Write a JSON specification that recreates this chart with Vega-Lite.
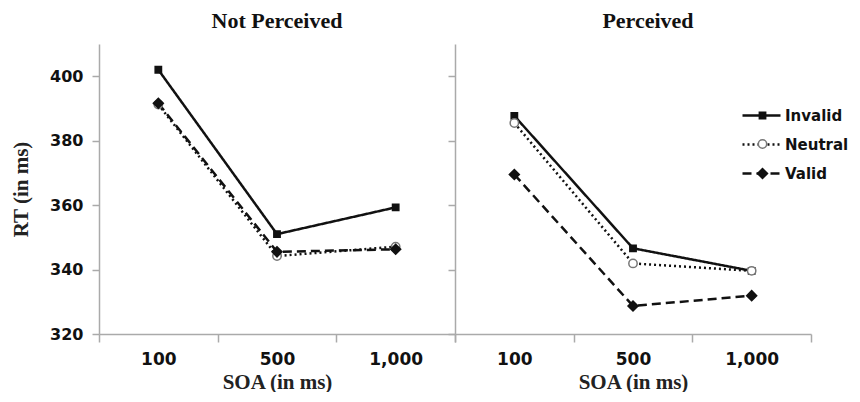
{
  "$schema": "https://vega.github.io/schema/vega-lite/v6.json",
  "background": "white",
  "padding": {"left": 10, "top": 10, "right": 0, "bottom": 0},
  "data": {"values": [
    {"panel": "Not Perceived", "soa": "100", "cue": "Invalid", "marker": "Invalid", "rt": 402},
    {"panel": "Not Perceived", "soa": "500", "cue": "Invalid", "marker": "Invalid", "rt": 351},
    {"panel": "Not Perceived", "soa": "1,000", "cue": "Invalid", "marker": "Invalid", "rt": 359.3},
    {"panel": "Not Perceived", "soa": "100", "cue": "Neutral", "marker": "Neutral", "rt": 391.2},
    {"panel": "Not Perceived", "soa": "500", "cue": "Neutral", "marker": "Neutral", "rt": 344.2},
    {"panel": "Not Perceived", "soa": "1,000", "cue": "Neutral", "marker": "Neutral", "rt": 347.1},
    {"panel": "Not Perceived", "soa": "100", "cue": "Valid", "marker": "Valid", "rt": 391.6},
    {"panel": "Not Perceived", "soa": "500", "cue": "Valid", "marker": "Valid", "rt": 345.5},
    {"panel": "Not Perceived", "soa": "1,000", "cue": "Valid", "marker": "Valid", "rt": 346.3},
    {"panel": "Perceived", "soa": "100", "cue": "Invalid", "marker": "Invalid", "rt": 387.7},
    {"panel": "Perceived", "soa": "500", "cue": "Invalid", "marker": "Invalid", "rt": 346.6},
    {"panel": "Perceived", "soa": "1,000", "cue": "Invalid", "marker": "Invalid", "rt": 339.6},
    {"panel": "Perceived", "soa": "100", "cue": "Neutral", "marker": "Neutral", "rt": 385.5},
    {"panel": "Perceived", "soa": "500", "cue": "Neutral", "marker": "Neutral", "rt": 341.9},
    {"panel": "Perceived", "soa": "1,000", "cue": "Neutral", "marker": "Neutral", "rt": 339.6},
    {"panel": "Perceived", "soa": "100", "cue": "Valid", "marker": "Valid", "rt": 369.5},
    {"panel": "Perceived", "soa": "500", "cue": "Valid", "marker": "Valid", "rt": 328.7},
    {"panel": "Perceived", "soa": "1,000", "cue": "Valid", "marker": "Valid", "rt": 331.9}
  ]},
  "config": {
    "view": {"stroke": null},
    "axis": {
      "domainColor": "#aaaaaa", "domainWidth": 1.5,
      "tickColor": "#aaaaaa", "tickWidth": 1.5, "tickSize": 7,
      "grid": false,
      "labelFont": "DejaVu Sans", "labelFontWeight": "bold", "labelColor": "#111111",
      "titleFont": "Liberation Serif", "titleFontWeight": "bold", "titleColor": "#222222", "titleFontSize": 21
    },
    "title": {"font": "Liberation Serif", "fontWeight": "bold", "fontSize": 22, "color": "#111111", "frame": "group"},
    "legend": {"labelFont": "DejaVu Sans", "labelFontWeight": "bold", "labelFontSize": 15, "labelColor": "#111111"}
  },
  "hconcat": [
    {
      "title": {"text": "Not Perceived", "offset": 11},
      "width": 356, "height": 290,
      "transform": [{"filter": "datum.panel === 'Not Perceived'"}],
      "encoding": {
        "x": {"field": "soa", "type": "ordinal", "sort": ["100", "500", "1,000"],
              "scale": {"paddingInner": 0, "paddingOuter": 0},
              "axis": {"title": "SOA (in ms)", "labelAngle": 0, "labelFontSize": 17, "tickBand": "extent", "tickSize": 8, "labelPadding": 9, "titlePadding": 4}},
        "y": {"field": "rt", "type": "quantitative", "scale": {"domain": [320, 410], "nice": false, "zero": false},
              "axis": {"title": "RT (in ms)", "values": [320, 340, 360, 380, 400], "labelFontSize": 16, "labelPadding": 9, "titlePadding": 18}}
      },
      "layer": [
        {
          "mark": {"type": "line", "color": "#111111", "strokeWidth": 2.5},
          "encoding": {
            "detail": {"field": "cue"},
            "strokeDash": {"field": "cue", "type": "nominal", "scale": {"range": [[1, 0], [2, 3], [9, 5]]}, "legend": null}
          }
        },
        {
          "mark": {"type": "point", "opacity": 1, "strokeWidth": 1.5},
          "encoding": {
            "shape": {"field": "marker", "type": "nominal", "scale": {"range": ["square", "circle", "diamond"]}, "legend": null},
            "fill": {"field": "marker", "type": "nominal", "scale": {"range": ["#111111", "#ffffff", "#111111"]}, "legend": null},
            "stroke": {"field": "marker", "type": "nominal", "scale": {"range": ["#111111", "#777777", "#111111"]}, "legend": null},
            "size": {"field": "marker", "type": "nominal", "scale": {"range": [40, 100, 45]}, "legend": null}
          }
        }
      ]
    },
    {
      "title": {"text": "Perceived", "offset": 11, "dx": 15},
      "width": 356, "height": 290,
      "transform": [{"filter": "datum.panel === 'Perceived'"}],
      "encoding": {
        "x": {"field": "soa", "type": "ordinal", "sort": ["100", "500", "1,000"],
              "scale": {"paddingInner": 0, "paddingOuter": 0},
              "axis": {"title": "SOA (in ms)", "labelAngle": 0, "labelFontSize": 17, "tickBand": "extent", "tickSize": 8, "labelPadding": 9, "titlePadding": 4}},
        "y": {"field": "rt", "type": "quantitative", "scale": {"domain": [320, 410], "nice": false, "zero": false},
              "axis": {"title": null, "labels": false, "values": [320, 340, 360, 380, 400]}}
      },
      "layer": [
        {
          "mark": {"type": "line", "color": "#111111", "strokeWidth": 2.5},
          "encoding": {
            "detail": {"field": "cue"},
            "strokeDash": {"field": "cue", "type": "nominal", "scale": {"range": [[1, 0], [2, 3], [9, 5]]},
              "legend": {"title": null, "orient": "none", "legendX": 286, "legendY": 51, "padding": 0,
                "symbolType": "stroke", "symbolSize": 1444, "symbolStrokeWidth": 2.5, "symbolStrokeColor": "#111111",
                "rowPadding": -9, "labelOffset": 3}}
          }
        },
        {
          "mark": {"type": "point", "opacity": 1, "strokeWidth": 1.5},
          "encoding": {
            "shape": {"field": "marker", "type": "nominal", "scale": {"range": ["square", "circle", "diamond"]},
              "legend": {"title": null, "orient": "none", "legendX": 300, "legendY": 64, "padding": 0,
                "rowPadding": 12.5, "labelOffset": 0, "labelExpr": "''"}},
            "fill": {"field": "marker", "type": "nominal", "scale": {"range": ["#111111", "#ffffff", "#111111"]}},
            "stroke": {"field": "marker", "type": "nominal", "scale": {"range": ["#111111", "#777777", "#111111"]}},
            "size": {"field": "marker", "type": "nominal", "scale": {"range": [40, 100, 45]}}
          }
        }
      ]
    }
  ],
  "spacing": 0,
  "bounds": "flush",
  "resolve": {"legend": {"strokeDash": "independent", "shape": "independent", "fill": "independent", "stroke": "independent", "size": "independent"}}
}
